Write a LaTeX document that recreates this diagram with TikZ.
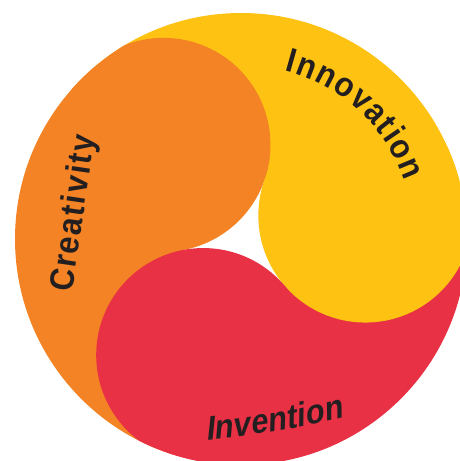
\documentclass[tikz,border=0pt]{standalone}
\usepackage{fontspec}
\setmainfont{Liberation Sans}
\newfontfamily\lblfont{Liberation Sans}[FakeStretch=0.91]
\newfontfamily\slantfont{Liberation Sans}[FakeStretch=0.91,FakeSlant=0.2]
\usetikzlibrary{decorations.text,calc}
\definecolor{cOrange}{RGB}{243,131,36}
\definecolor{cYellow}{RGB}{253,194,18}
\definecolor{cRed}{RGB}{233,49,69}
\definecolor{cText}{RGB}{35,31,32}
\tikzset{
  lbl/.style={decorate, decoration={text along path, text align={fit to path}, text={#1}}}
}
\begin{document}
\begin{tikzpicture}[x=1pt,y=1pt]
\useasboundingbox (0,0) rectangle (459,461);
\coordinate (O) at (241,222);
\coordinate (C) at (244,222.5);
\coordinate (hO) at ($(C)+(130.7:123.5)$);
\coordinate (hY) at ($(C)+(10.7:123.5)$);
\coordinate (hR) at ($(C)+(250.7:123.5)$);
\begin{scope}
  \clip (O) circle[radius=226];
  \fill[cYellow] (C) -- ++(10.7:330) arc[start angle=10.7,end angle=130.7,radius=330] -- cycle;
  \fill[cOrange] (C) -- ++(130.7:330) arc[start angle=130.7,end angle=250.7,radius=330] -- cycle;
  \fill[cRed] (C) -- ++(250.7:330) arc[start angle=250.7,end angle=370.7,radius=330] -- cycle;
  \fill[white] (hO) -- (hY) -- (hR) -- cycle;
  \fill[cOrange] (hO) circle[radius=107];
  \fill[cYellow] (hY) circle[radius=107];
  \fill[cRed] (hR) circle[radius=107];
\end{scope}
\path[lbl={|\lblfont\bfseries\fontsize{34}{34}\selectfont\color{cText}|Innovation}]
  ($(O)+(75.6:174)$) arc[start angle=75.6,end angle=19.6,radius=174];
\coordinate (cs) at (72,168);
\coordinate (ce) at (95,325);
\path[lbl={|\lblfont\bfseries\fontsize{34}{34}\selectfont\color{cText}|Creativity}] (cs) -- (ce);
\coordinate (is) at (206,21);
\coordinate (ie) at (344,43);
\path[lbl={|\slantfont\bfseries\fontsize{34}{34}\selectfont\color{cText}|Invention}]
  (is) .. controls (252,25) and (298,33) .. (ie);
\end{tikzpicture}
\end{document}
